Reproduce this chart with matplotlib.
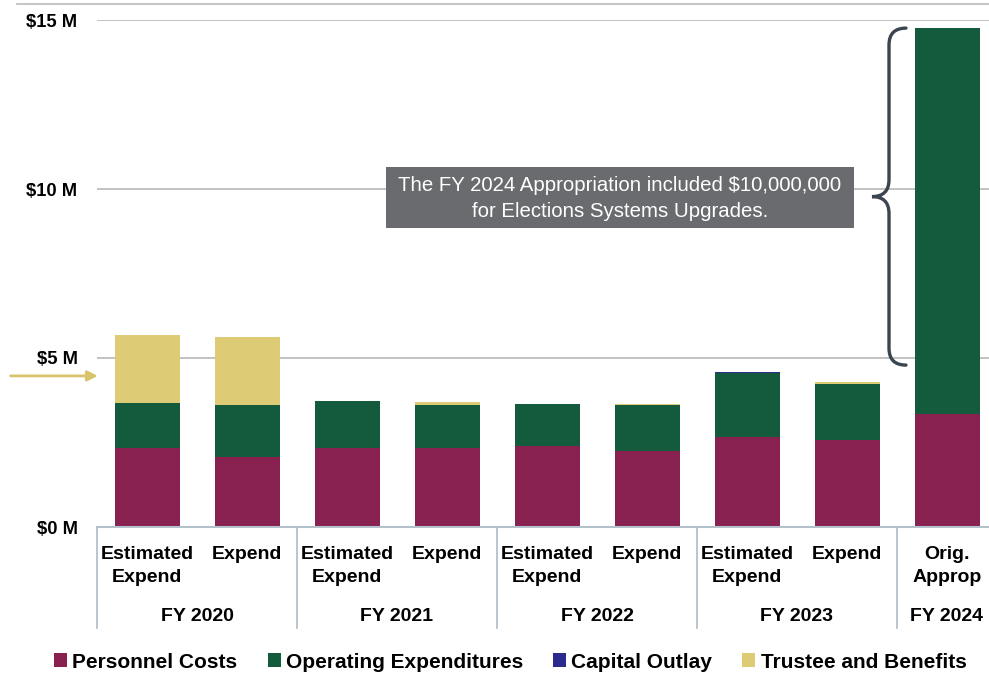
import numpy as np
import matplotlib
matplotlib.use("Agg")
import matplotlib.pyplot as plt
from matplotlib.patches import Patch, Rectangle, PathPatch
from matplotlib.path import Path
from matplotlib.lines import Line2D

plt.rcParams['font.family'] = ['Liberation Sans', 'DejaVu Sans']

# values in $ millions
bar_labels = ["Estimated\nExpend", "Expend", "Estimated\nExpend", "Expend",
              "Estimated\nExpend", "Expend", "Estimated\nExpend", "Expend",
              "Orig.\nApprop"]
groups = ["FY 2020", "FY 2021", "FY 2022", "FY 2023", "FY 2024"]
group_sizes = [2, 2, 2, 2, 1]

personnel = [2.34, 2.07, 2.34, 2.34, 2.40, 2.25, 2.66, 2.57, 3.34]
operating = [1.33, 1.54, 1.39, 1.27, 1.24, 1.36, 1.90, 1.66, 11.42]
capital   = [0.00, 0.00, 0.00, 0.00, 0.00, 0.00, 0.04, 0.00, 0.00]
trustee   = [2.01, 2.01, 0.00, 0.09, 0.00, 0.03, 0.00, 0.06, 0.00]

series = ["Personnel Costs", "Operating Expenditures", "Capital Outlay", "Trustee and Benefits"]
colors = ["#88214f", "#145a3c", "#2b2a8f", "#ddcb76"]

arrow_level = 4.47  # marker on the y axis
note = "The FY 2024 Appropriation included $10,000,000\nfor Elections Systems Upgrades."

fig = plt.figure(figsize=(9.89, 6.8), dpi=100)
ax = fig.add_axes([97/989, 1-527/680, 892/989, 507/680])

x = np.arange(len(bar_labels))
bottom = np.zeros(len(x))
for vals, c in zip([personnel, operating, capital, trustee], colors):
    ax.bar(x, vals, width=0.65, bottom=bottom, color=c, zorder=3)
    bottom += np.array(vals)

ax.set_xlim(-0.5, 8.42)
ax.set_ylim(0, 15)
ax.set_yticks([0, 5, 10, 15])
ax.set_yticklabels(["$0 M", "$5 M", "$10 M", "$15 M"], fontsize=13.2, fontweight='bold')
ax.tick_params(axis='y', length=0, pad=14)
ax.set_xticks([])
ax.grid(axis='y', color='#bdbdbd', linewidth=1.3, zorder=0)
for s in ['top', 'right', 'left']:
    ax.spines[s].set_visible(False)
ax.spines['bottom'].set_color('#b4c0ca')
ax.spines['bottom'].set_linewidth(1.5)
ax.spines['bottom'].set_zorder(4)

# category labels
trans = ax.get_xaxis_transform()
for xi, lab in zip(x, bar_labels):
    ax.text(xi, -0.037, lab, transform=trans, ha='center', va='top',
            fontsize=14, fontweight='bold', linespacing=1.5)
start = -0.5
for g, n in zip(groups, group_sizes):
    ax.plot([start, start], [0, -0.2], transform=trans, color='#b4c0ca',
            linewidth=1.3, clip_on=False)
    ax.text(start + n/2, -0.176, g, transform=trans, ha='center', va='center',
            fontsize=14, fontweight='bold')
    start += n

# arrow on y axis
ax.annotate('', xy=(0.004, arrow_level), xycoords=ax.get_yaxis_transform(),
            xytext=(-0.1, arrow_level), textcoords=ax.get_yaxis_transform(),
            arrowprops=dict(arrowstyle='-|>', color='#d8c46c', lw=2, mutation_scale=15))

# note box
ax.add_patch(Rectangle((2.39, 8.85), 4.68, 1.80, facecolor='#696b6e', edgecolor='none', zorder=5))
ax.text(2.39 + 4.68/2, 8.85 + 0.88, note, ha='center', va='center', color='white',
        fontsize=14.7, linespacing=1.45, zorder=6)

# brace next to FY 2024 bar
top = personnel[8] + operating[8]
bot = 4.79
mid = (top + bot) / 2
xb, xt, xr = 7.42, 7.25, 7.59
r = 0.5
verts = [(xr, top), (xb, top), (xb, top - r), (xb, mid + r), (xb, mid), (xt, mid),
         (xb, mid), (xb, mid - r), (xb, bot + r), (xb, bot), (xr, bot)]
codes = [Path.MOVETO, Path.CURVE3, Path.CURVE3, Path.LINETO, Path.CURVE3, Path.CURVE3,
         Path.CURVE3, Path.CURVE3, Path.LINETO, Path.CURVE3, Path.CURVE3]
ax.add_patch(PathPatch(Path(verts, codes), facecolor='none', edgecolor='#3b4550',
                       linewidth=2.4, capstyle='round', zorder=6))

# top frame line
fig.add_artist(Line2D([17/989, 1], [1-4/680, 1-4/680], color='#c0c0c0', linewidth=1.3))

handles = [Patch(facecolor=c, edgecolor='none') for c in colors]
fig.legend(handles, series, loc='center', bbox_to_anchor=(0.516, 1-662/680), ncol=4,
           frameon=False, prop={'size': 15, 'weight': 'bold'},
           handlelength=0.62, handleheight=0.62, handletextpad=0.25, columnspacing=1.45)

fig.savefig("out.png", dpi=100)
